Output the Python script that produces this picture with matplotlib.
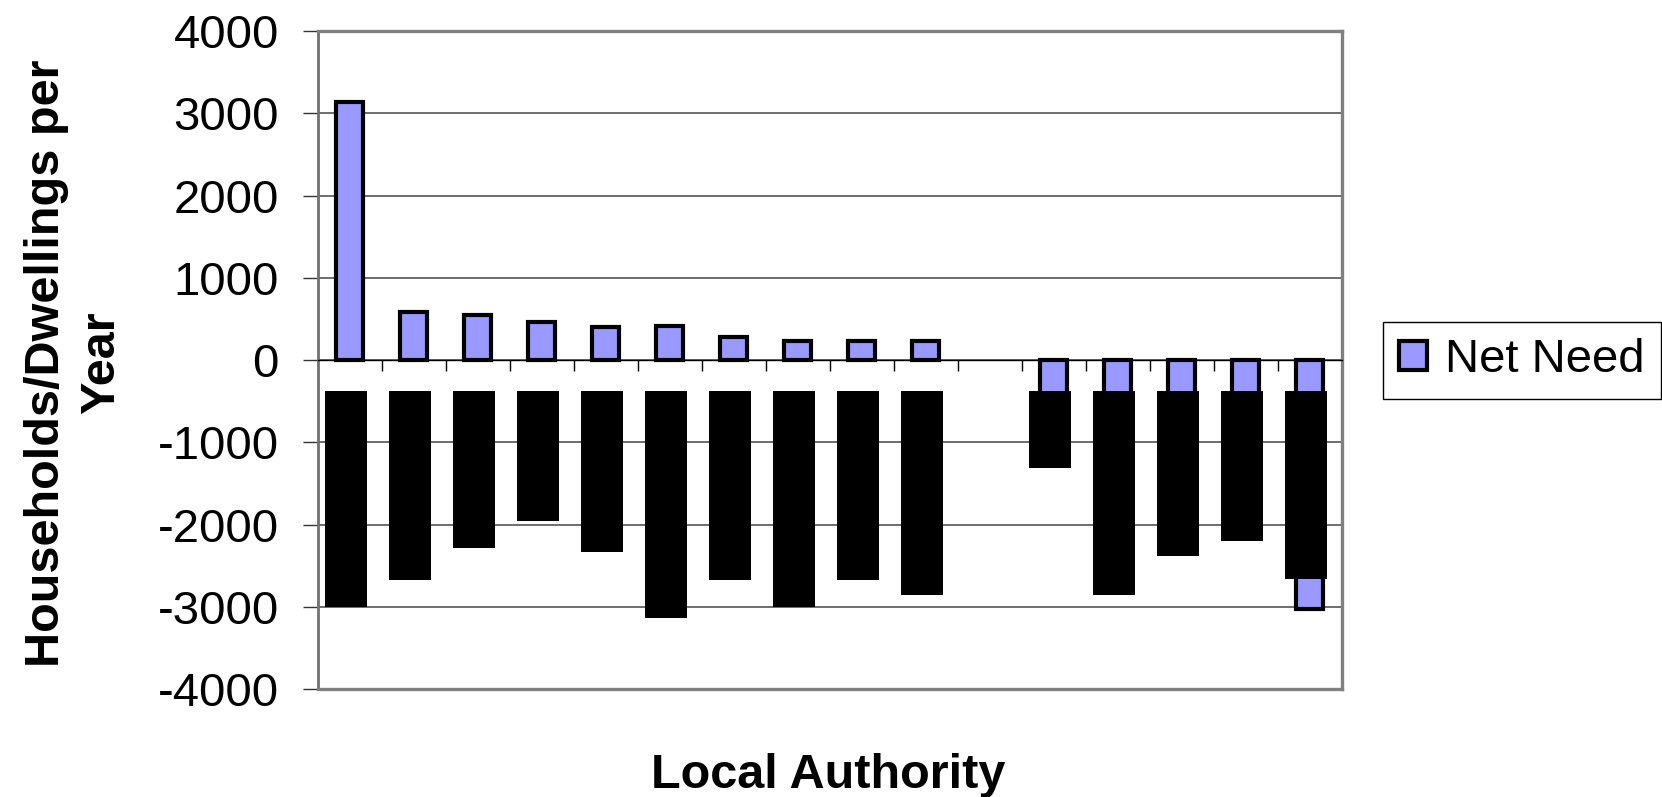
import numpy as np
import matplotlib
matplotlib.use("Agg")
from matplotlib import pyplot as plt

plt.rcParams['font.family'] = ['Liberation Sans', 'DejaVu Sans']

# Net need per local authority (households/dwellings per year), one slot left empty
net_need = [3142, 579, 544, 456, 405, 410, 274, 230, 230, 230, np.nan,
            -1000, -1400, -1200, -1100, -3033]

# Solid blocks under the zero line (authority name strips), top and end values
block_top = -380
block_end = [-3000, -2671, -2288, -1960, -2333, -3141, -2671, -3000, -2671, -2862, np.nan,
             -1315, -2862, -2388, -2196, -2667]

yticks = [4000, 3000, 2000, 1000, 0, -1000, -2000, -3000, -4000]

x = np.arange(len(net_need))

fig = plt.figure(figsize=(16.62, 7.97), dpi=100)
ax = fig.add_axes([0.1912, 0.1355, 0.6161, 0.8256])

# Blue net need bars
ax.bar(x, net_need, width=0.42, color='#9999FF', edgecolor='black',
       linewidth=3, zorder=2, label='Net Need')

# Black blocks drawn over the bars
heights = [e - block_top for e in block_end]
ax.bar(x - 0.055, heights, bottom=block_top, width=0.66, color='black',
       linewidth=0, zorder=3)

ax.set_xlim(-0.5, len(net_need) - 0.5)
ax.set_ylim(-4000, 4000)
ax.set_yticks(yticks)
ax.set_yticklabels([str(v) for v in yticks])

# Horizontal gridlines
ax.yaxis.grid(True, color='#555555', linewidth=1.2)
ax.set_axisbelow(True)

# Category axis sits on zero, ticks at category boundaries
ax.spines['bottom'].set_position(('data', 0))
ax.spines['bottom'].set_color('black')
ax.spines['bottom'].set_linewidth(1)
ax.spines['bottom'].set_zorder(4)
ax.set_xticks(np.arange(0.5, len(net_need), 1))
ax.set_xticklabels([])
ax.tick_params(axis='x', direction='out', length=8, width=1, color='black')

# Plot area frame
for side in ['top', 'right']:
    ax.spines[side].set_color('#808080')
    ax.spines[side].set_linewidth(2.4)
ax.spines['left'].set_color('#707070')
ax.spines['left'].set_linewidth(2)
ax.axhline(-4000, color='#808080', linewidth=2.4, clip_on=False, zorder=4)

ax.tick_params(axis='y', direction='out', length=11, width=1, color='#333333',
               labelsize=34, pad=17)

# Axis titles
fig.text(0.0445, 0.5446, 'Households/Dwellings per\nYear', rotation=90,
         ha='center', va='center', multialignment='center', fontsize=35,
         fontweight='bold', linespacing=1.3)
fig.text(0.4985, 0.011, 'Local Authority', ha='center', va='baseline',
         fontsize=35, fontweight='bold')

# Legend at the right
leg = fig.legend(loc='center', bbox_to_anchor=(0.9158, 0.548), fontsize=34,
                 fancybox=False, edgecolor='black', framealpha=1,
                 handlelength=0.58, handleheight=0.58, handletextpad=0.4,
                 borderpad=0.35)
leg.get_frame().set_linewidth(1)

fig.savefig('out.png', dpi=100)
